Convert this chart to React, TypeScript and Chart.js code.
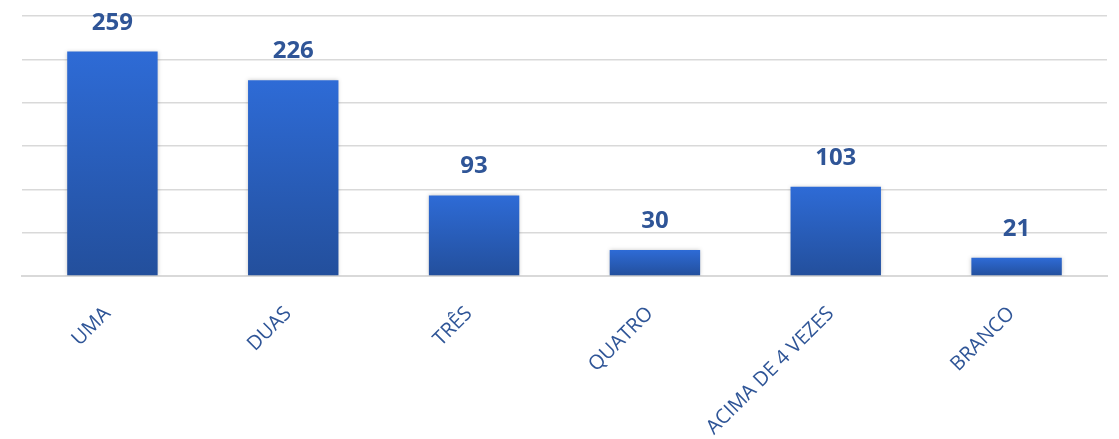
import React, { useEffect, useRef } from "react";
import { Chart, registerables } from "chart.js";

Chart.register(...registerables);

const categories = ["UMA", "DUAS", "TRÊS", "QUATRO", "ACIMA DE 4 VEZES", "BRANCO"];
const values = [259, 226, 93, 30, 103, 21];
const yMax = 300;
const yStep = 50;

const TOP_COLOR = "#2E6BD6";
const BOTTOM_COLOR = "#234F9C";
const LABEL_COLOR = "#2F5597";

const valueLabels = {
  id: "valueLabels",
  afterDatasetsDraw(chart: any) {
    const ctx = chart.ctx;
    const meta = chart.getDatasetMeta(0);
    ctx.save();
    ctx.font = "bold 24px 'Open Sans'";
    ctx.fillStyle = LABEL_COLOR;
    ctx.textAlign = "center";
    ctx.textBaseline = "alphabetic";
    meta.data.forEach((bar: any, i: number) => {
      ctx.fillText(String(values[i]), bar.x, bar.y - 22);
    });
    ctx.restore();
  },
};

const barShadow = {
  id: "barShadow",
  beforeDatasetsDraw(chart: any) {
    const ctx = chart.ctx;
    ctx.save();
    ctx.shadowColor = "rgba(0,0,0,0.22)";
    ctx.shadowBlur = 4;
    ctx.shadowOffsetX = 0;
    ctx.shadowOffsetY = 0;
  },
  afterDatasetsDraw(chart: any) {
    chart.ctx.restore();
  },
};

export default function App() {
  const ref = useRef<HTMLCanvasElement>(null);
  useEffect(() => {
    document.body.style.margin = "0";
    if (!ref.current) return;
    const chart = new Chart(ref.current, {
      type: "bar",
      data: {
        labels: categories,
        datasets: [
          {
            data: values,
            backgroundColor: (c: any) => {
              const ch = c.chart;
              if (c.type !== "data" || !ch.chartArea || !ch.scales.y) return TOP_COLOR;
              const y = ch.scales.y;
              const top = y.getPixelForValue(c.parsed.y);
              const bot = y.getPixelForValue(0);
              if (!isFinite(top) || !isFinite(bot) || top === bot) return TOP_COLOR;
              const g = ch.ctx.createLinearGradient(0, top, 0, bot);
              g.addColorStop(0, TOP_COLOR);
              g.addColorStop(1, BOTTOM_COLOR);
              return g;
            },
            borderWidth: 0,
            barPercentage: 0.5,
            categoryPercentage: 1,
          },
        ],
      },
      options: {
        animation: false,
        responsive: true,
        maintainAspectRatio: false,
        layout: { padding: { top: 16, right: 12, left: 0, bottom: 0 } },
        plugins: { legend: { display: false }, tooltip: { enabled: false } },
        scales: {
          x: {
            grid: { display: false, drawTicks: false },
            border: { display: true, color: "#D9D9D9", width: 2 },
            ticks: {
              color: LABEL_COLOR,
              font: { family: "'Open Sans'", size: 20 },
              minRotation: 45,
              maxRotation: 45,
              autoSkip: false,
              padding: 26,
              labelOffset: -5,
            },
            afterFit: (s: any) => {
              s.height = 163;
            },
          },
          y: {
            min: 0,
            max: yMax,
            ticks: { stepSize: yStep, display: false },
            grid: { color: "#D9D9D9", lineWidth: 1.5, drawTicks: false },
            border: { display: false },
            afterFit: (s: any) => {
              s.width = 22;
            },
          },
        },
      },
      plugins: [barShadow, valueLabels],
    });
    return () => chart.destroy();
  }, []);
  return (
    <div style={{ width: 1119, height: 439, position: "relative", background: "#fff" }}>
      <canvas ref={ref} />
    </div>
  );
}
